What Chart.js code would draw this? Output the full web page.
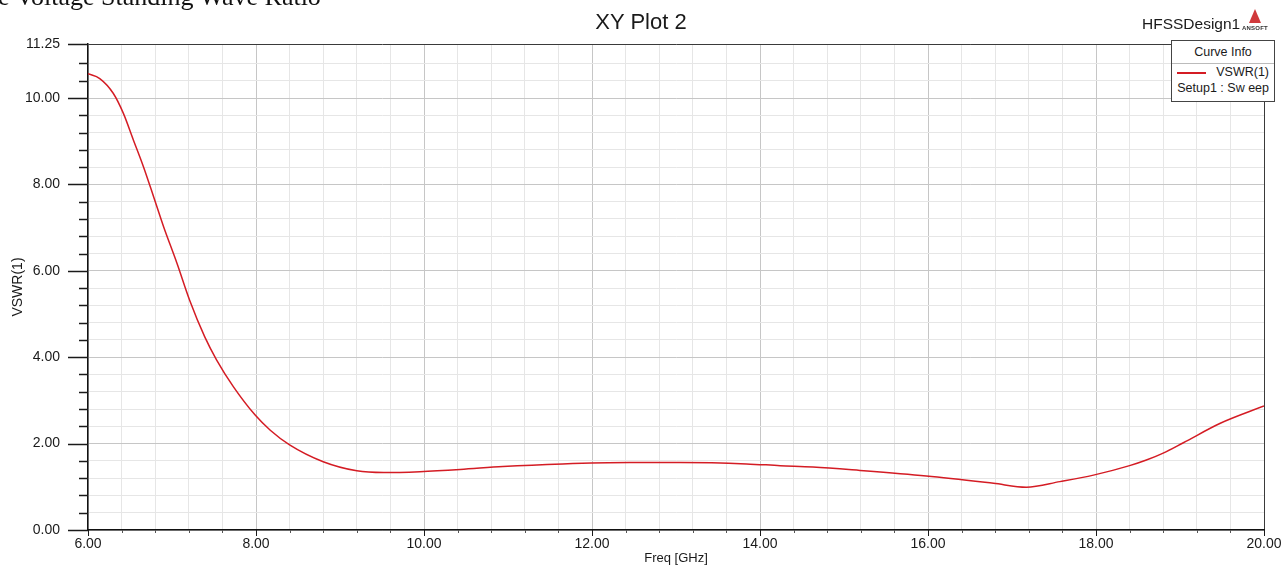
<!DOCTYPE html>
<html>
<head>
<meta charset="utf-8">
<title>XY Plot 2</title>
<script src="https://cdn.jsdelivr.net/npm/chart.js@4/dist/chart.umd.min.js"></script>
<style>
  body { margin: 0; background: #fff; overflow: hidden; }
  #wrap { position: relative; width: 1282px; height: 566px; font-family: "Liberation Sans", Arial, sans-serif; color: #1a1a1a; }
  #wrap canvas { position: absolute; left: 0; top: 0; }
  .cut-title { position: absolute; left: -2px; top: -16px; font-family: "Liberation Serif", serif; font-size: 26px; line-height: 26px; white-space: nowrap; color: #111; }
  .plot-title { position: absolute; left: 0; width: 1282px; top: 9px; text-align: center; font-size: 22px; line-height: 26px; }
  .design { position: absolute; left: 1142px; top: 15px; font-size: 15.5px; line-height: 18px; }
  .logo { position: absolute; left: 1240px; top: 9px; width: 42px; height: 26px; overflow: hidden; }
  .logo .tri { position: absolute; left: 9px; top: 0; width: 0; height: 0; border-left: 6px solid transparent; border-right: 6px solid transparent; border-bottom: 14px solid #d0393b; }
  .logo .txt { position: absolute; left: 2px; top: 16px; font-size: 6px; font-weight: bold; letter-spacing: 0.2px; color: #333; }
  .legend { position: absolute; left: 1171px; top: 40px; width: 102px; height: 60px; border: 1px solid #444; background: #fff; font-size: 12.5px; }
  .legend .head { height: 22px; line-height: 22px; text-align: center; border-bottom: 1px solid #bbb; }
  .legend .row1 { position: relative; height: 17px; line-height: 17px; text-align: right; padding-right: 5px; }
  .legend .row1 .swatch { position: absolute; left: 5px; top: 8px; width: 29px; height: 2px; background: #d41c24; }
  .legend .row2 { height: 16px; line-height: 14px; text-align: right; padding-right: 5px; white-space: nowrap; }
</style>
</head>
<body>
<div id="wrap">
  <canvas id="myChart" width="1282" height="566"></canvas>
  <div class="cut-title">e Voltage Standing Wave Ratio</div>
  <div class="plot-title">XY Plot 2</div>
  <div class="design">HFSSDesign1</div>
  <div class="logo"><div class="tri"></div><div class="txt">ANSOFT</div></div>
  <div class="legend">
    <div class="head">Curve Info</div>
    <div class="row1"><span class="swatch"></span>VSWR(1)</div>
    <div class="row2">Setup1 : Sw eep</div>
  </div>
</div>
<script>
// values
const freqGHz = [6.00, 6.14, 6.30, 6.42, 6.54, 6.66, 6.78, 6.90, 7.06, 7.21, 7.39, 7.53, 7.73, 7.99,
  8.17, 8.40, 8.80, 9.20, 9.52, 9.95, 10.43, 10.94, 11.65, 12.45, 13.05, 13.84, 14.24, 14.63,
  15.19, 15.98, 16.78, 17.17, 17.57, 17.97, 18.40, 18.60, 18.80, 19.04, 19.48, 20.00];
const vswr = [10.56, 10.45, 10.11, 9.65, 9.03, 8.41, 7.72, 7.02, 6.17, 5.32, 4.47, 3.94, 3.32, 2.66,
  2.31, 1.97, 1.58, 1.37, 1.33, 1.35, 1.40, 1.47, 1.53, 1.56, 1.56, 1.53, 1.49, 1.46,
  1.38, 1.25, 1.08, 0.99, 1.12, 1.27, 1.49, 1.62, 1.78, 2.02, 2.47, 2.87];

const xRange = [6, 20];
const yRange = [0, 11.25];
const minorStep = 0.4;
const majorStep = 2;

const AXIS_LEFT = 88;
const AXIS_BOTTOM = 530;

function isMajor(v) {
  return Math.abs(v / majorStep - Math.round(v / majorStep)) < 1e-6;
}
function isEdge(v, range) {
  return Math.abs(v - range[1]) < 1e-6;
}

function gridColor(range) {
  return function (c) {
    const v = c.tick ? c.tick.value : 0;
    if (isEdge(v, range)) return '#3a3a3a';
    return isMajor(v) ? '#c6c6c6' : '#e6e6e6';
  };
}

// small tick marks like HFSS: long/short outside the axes
const tickMarks = {
  id: 'tickMarks',
  afterDraw(chart) {
    const ctx = chart.ctx;
    const xs = chart.scales.x, ys = chart.scales.y;
    const area = chart.chartArea;
    ctx.save();
    ctx.strokeStyle = '#1a1a1a';
    ctx.lineWidth = 1.5;
    ys.ticks.forEach(t => {
      const y = Math.round(ys.getPixelForValue(t.value)) + 0.5;
      const len = (isMajor(t.value) || isEdge(t.value, yRange)) ? 20 : 9;
      ctx.beginPath();
      ctx.moveTo(area.left - len, y);
      ctx.lineTo(area.left, y);
      ctx.stroke();
    });
    ctx.lineWidth = 1;
    xs.ticks.forEach(t => {
      const x = Math.round(xs.getPixelForValue(t.value)) + 0.5;
      const len = isMajor(t.value) ? 6 : 3;
      ctx.strokeStyle = isMajor(t.value) ? '#1a1a1a' : '#555';
      ctx.beginPath();
      ctx.moveTo(x, area.bottom);
      ctx.lineTo(x, area.bottom + len);
      ctx.stroke();
    });
    ctx.restore();
  }
};

const points = freqGHz.map((f, i) => ({ x: f, y: vswr[i] }));

Chart.defaults.font.family = '"Liberation Sans", Arial, sans-serif';
Chart.defaults.color = '#1a1a1a';

new Chart(document.getElementById('myChart').getContext('2d'), {
  type: 'line',
  data: {
    datasets: [{
      label: 'VSWR(1)',
      data: points,
      borderColor: '#d41c24',
      borderWidth: 1.5,
      pointRadius: 0,
      cubicInterpolationMode: 'monotone',
      fill: false
    }]
  },
  options: {
    responsive: false,
    animation: false,
    devicePixelRatio: 1,
    layout: { padding: { top: 44, right: 18, left: 0, bottom: 0 } },
    plugins: {
      legend: { display: false },
      title: { display: false },
      tooltip: { enabled: false }
    },
    scales: {
      x: {
        type: 'linear',
        min: xRange[0],
        max: xRange[1],
        afterFit(scale) {
          scale.height = 566 - AXIS_BOTTOM;
          scale.paddingLeft = 0;
          scale.paddingRight = 0;
        },
        ticks: {
          stepSize: minorStep,
          autoSkip: false,
          maxRotation: 0,
          padding: 6,
          font: { size: 14 },
          color: '#1a1a1a',
          callback: v => isMajor(v) ? v.toFixed(2) : ''
        },
        grid: { color: gridColor(xRange), lineWidth: 1, drawTicks: false },
        border: { color: '#111', width: 1.5 },
        title: {
          display: true,
          text: 'Freq [GHz]',
          font: { size: 13 },
          color: '#1a1a1a',
          padding: { top: 0, bottom: 0 }
        }
      },
      y: {
        type: 'linear',
        min: yRange[0],
        max: yRange[1],
        afterFit(scale) {
          scale.width = AXIS_LEFT;
          scale.paddingTop = 0;
          scale.paddingBottom = 0;
        },
        ticks: {
          stepSize: minorStep,
          autoSkip: false,
          padding: 28,
          font: { size: 14 },
          color: '#1a1a1a',
          callback: v => (isMajor(v) || isEdge(v, yRange)) ? v.toFixed(2) : ''
        },
        grid: { color: gridColor(yRange), lineWidth: 1, drawTicks: false },
        border: { color: '#111', width: 1.5 },
        title: {
          display: true,
          text: 'VSWR(1)',
          font: { size: 14 },
          color: '#1a1a1a',
          padding: { top: 10, bottom: 0 }
        }
      }
    }
  },
  plugins: [tickMarks]
});
</script>
</body>
</html>
